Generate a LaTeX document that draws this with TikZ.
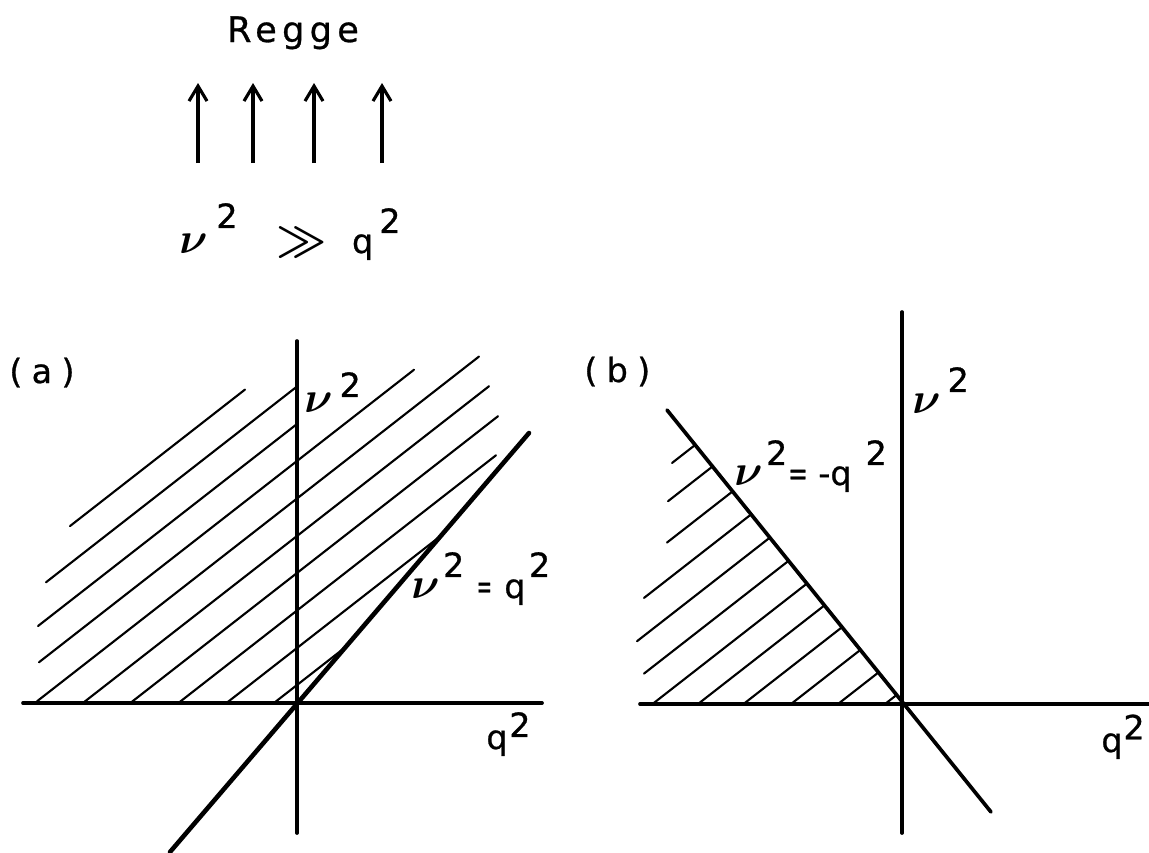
\documentclass[tikz,border=0pt]{standalone}
\usepackage{amsmath}
\usepackage{fontspec}
\setmainfont[FakeBold=0.8]{DejaVu Sans}
\newfontfamily\lettering[LetterSpace=15, FakeBold=0.8]{DejaVu Sans}
\newfontfamily\panelfont[LetterSpace=28, FakeBold=0.8]{DejaVu Sans}
\usepackage{tikz}
\usetikzlibrary{arrows.meta, calc}

\newcommand{\nuv}{{\fontsize{24}{28}\selectfont$\boldsymbol{\nu}$}}
\newcommand{\sq}[2][0.6em]{\hspace{#2}\raisebox{#1}{2}}
\newcommand{\eqs}[1][0.55]{\scalebox{#1}[1]{=}}

\begin{document}
\begin{tikzpicture}[
    x=0.02cm, y=-0.02cm,
    every node/.style={inner sep=0pt, font=\fontsize{19}{22}\selectfont},
    axis/.style={line width=2.1pt, line cap=round},
    bound/.style={line width=2.6pt, line cap=round},
    hatch/.style={line width=1.2pt, line cap=round},
    up/.style={line width=1.8pt, -{Straight Barb[length=0.3cm, width=0.36cm]}},
    >=stealth
]
\useasboundingbox (0,0) rectangle (1149,852);

% Regge limit at the top
\node[anchor=base, font=\fontsize{20}{22}\selectfont\lettering] (regge) at (293,42) {Regge};
\foreach \x in {198,253,314,382}
    \draw[up] (\x,163) -- (\x,83);
\node[anchor=base west] (limit) at (179,253)
    {\nuv\sq[0.75em]{5pt}\hspace{22pt}{\fontsize{23}{25}\selectfont$\boldsymbol{\gg}$}\hspace{14.5pt}q\sq[0.6em]{3.5pt}};

% (a) axes, the line nu^2 = q^2 and the hatched region
\coordinate (originA) at (297,703);
\draw[axis] (23,703) -- (542,703);
\draw[axis] (297,341) -- (297,833);
\draw[bound] (170,852) -- (529,433);
\foreach \yk/\xl/\xr in {685/274/343, 648/226.5/438, 610.5/178.5/496, 573/130.5/498,
        536/83/489, 498.5/37/479, 461/39/414, 424/38/297, 386.5/46/297, 349/70/245}
    \draw[hatch] (\xl,{\yk-0.78*(\xl-297)}) -- (\xr,{\yk-0.78*(\xr-297)});

\node[anchor=base west, font=\fontsize{19}{22}\selectfont\panelfont] (labelA) at (9,383) {(a)};
\node[anchor=base west] (nuA) at (304,412) {\nuv\sq[0.45em]{4pt}};
\node[anchor=base west] (lineA) at (411,598)
    {\nuv\sq[0.63em]{2pt}\hspace{7pt}\eqs\hspace{7pt}q\sq[0.63em]{2pt}};
\node[anchor=base west] (qA) at (486,749) {q\sq[0.36em]{1pt}};

% (b) axes, the line nu^2 = -q^2 and the hatched region
\coordinate (originB) at (902,704);
\draw[axis] (640,704) -- (1149,704);
\draw[axis] (902,312) -- (902,833);
\draw[axis] (667,410) -- (991,812);
\foreach \xk/\xl in {885/885, 838/838, 791/791, 743.5/743.5, 698/698, 652.5/652.5,
        605/644, 556.5/637, 508/644, 460/667, 408/668, 363/672} {
    \pgfmathsetmacro\xr{(1121.6+0.78*\xk)/2.0207}
    \draw[hatch] (\xl,{704-0.78*(\xl-\xk)}) -- (\xr,{704-0.78*(\xr-\xk)});
}

\node[anchor=base west, font=\fontsize{19}{22}\selectfont\panelfont] (labelB) at (584,382) {(b)};
\node[anchor=base west] (nuB) at (912,413) {\nuv\sq[0.63em]{4pt}};
\node[anchor=base west] (lineB) at (734,485)
    {\nuv\sq[0.6em]{2pt}\hspace{0.5pt}\eqs[0.7]\hspace{6pt}-q\sq[0.6em]{8pt}};
\node[anchor=base west] (qB) at (1101,752) {q\sq[0.38em]{0.5pt}};

\end{tikzpicture}
\end{document}
